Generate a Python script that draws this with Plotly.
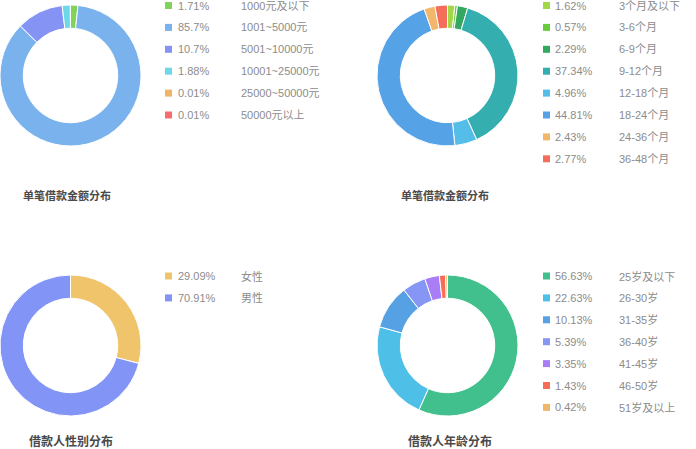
import plotly.graph_objects as go

W, H = 696, 449

# ---- data ----
amount_labels = ["1000元及以下", "1001~5000元", "5001~10000元", "10001~25000元", "25000~50000元", "50000元以上"]
amount_values = [1.71, 85.7, 10.7, 1.88, 0.01, 0.01]
amount_colors = ["#82D35B", "#79B2EC", "#8594F4", "#6DD8E8", "#F0B467", "#F76D6D"]

term_labels = ["3个月及以下", "3-6个月", "6-9个月", "9-12个月", "12-18个月", "18-24个月", "24-36个月", "36-48个月"]
term_values = [1.62, 0.57, 2.29, 37.34, 4.96, 44.81, 2.43, 2.77]
term_colors = ["#A2D845", "#6BCB3E", "#33A95F", "#35AEAF", "#55BEE8", "#56A2E6", "#F2B76B", "#F46E5B"]

gender_labels = ["女性", "男性"]
gender_values = [29.09, 70.91]
gender_colors = ["#EFC46B", "#8295F6"]

age_labels = ["25岁及以下", "26-30岁", "31-35岁", "36-40岁", "41-45岁", "46-50岁", "51岁及以上"]
age_values = [56.63, 22.63, 10.13, 5.39, 3.35, 1.43, 0.42]
age_colors = ["#41BF8C", "#4EC0E8", "#56A1E3", "#8696F5", "#A97DF5", "#F86D57", "#F2B66B"]

titles = ["单笔借款金额分布", "单笔借款金额分布", "借款人性别分布", "借款人年龄分布"]

FONT = "Liberation Sans, Noto Sans CJK SC, sans-serif"

def px(x):
    return x / W

def py(y):
    return 1 - y / H

fig = go.Figure()

panels = [
    # labels, values, colors, donut box (x0,y0,size), legend (swatch x, pct x, label x, first row y), title (cx, cy, size)
    (amount_labels, amount_values, amount_colors, (0, 5, 141), (165, 176, 239, 5.5), (66.5, 195, 11)),
    (term_labels, term_values, term_colors, (377, 5, 141), (543, 553, 617, 5.5), (444.5, 195, 11)),
    (gender_labels, gender_values, gender_colors, (0, 275, 141), (165, 176, 239, 276), (70.5, 441.5, 12)),
    (age_labels, age_values, age_colors, (377, 275, 141), (543, 553, 617, 276), (450, 441.5, 12)),
]

shapes = []
annotations = []
ROW = 21.9
for i, (labels, values, colors, box, leg, ttl) in enumerate(panels):
    x0, y0, s = box
    fig.add_trace(go.Pie(
        labels=labels, values=values,
        marker=dict(colors=colors, line=dict(color="white", width=1)),
        hole=0.67, sort=False, direction="clockwise", rotation=0,
        textinfo="none", showlegend=False,
        domain=dict(x=[px(x0), px(x0 + s)], y=[py(y0 + s), py(y0)]),
    ))
    sx, pctx, labx, ry = leg
    for j, (lab, v, c) in enumerate(zip(labels, values, colors)):
        yc = ry + j * ROW
        shapes.append(dict(type="rect", xref="paper", yref="paper",
                           x0=px(sx), x1=px(sx + 7), y0=py(yc + 3.5), y1=py(yc - 3.5),
                           fillcolor=c, line=dict(width=0)))
        annotations.append(dict(xref="paper", yref="paper", x=px(pctx), y=py(yc),
                                xanchor="left", yanchor="middle", showarrow=False,
                                text=f"{v:g}%", font=dict(family=FONT, size=11, color="#8c8c8c")))
        annotations.append(dict(xref="paper", yref="paper", x=px(labx), y=py(yc),
                                xanchor="left", yanchor="middle", showarrow=False,
                                text=lab, font=dict(family=FONT, size=11, color="#8c8c8c")))
    cx, cy, fs = ttl
    annotations.append(dict(xref="paper", yref="paper", x=px(cx), y=py(cy),
                            xanchor="center", yanchor="middle", showarrow=False, borderpad=0,
                            text=f"<b>{titles[i]}</b>",
                            font=dict(family=FONT, size=fs, color="#4a4a4a")))

fig.update_layout(
    width=W, height=H,
    margin=dict(l=0, r=0, t=0, b=0),
    paper_bgcolor="white", plot_bgcolor="white",
    shapes=shapes, annotations=annotations,
    font=dict(family=FONT),
)

fig.write_html("out.html", config={"displayModeBar": False},
               post_script="document.body.style.margin='0';document.body.style.overflow='hidden';")
